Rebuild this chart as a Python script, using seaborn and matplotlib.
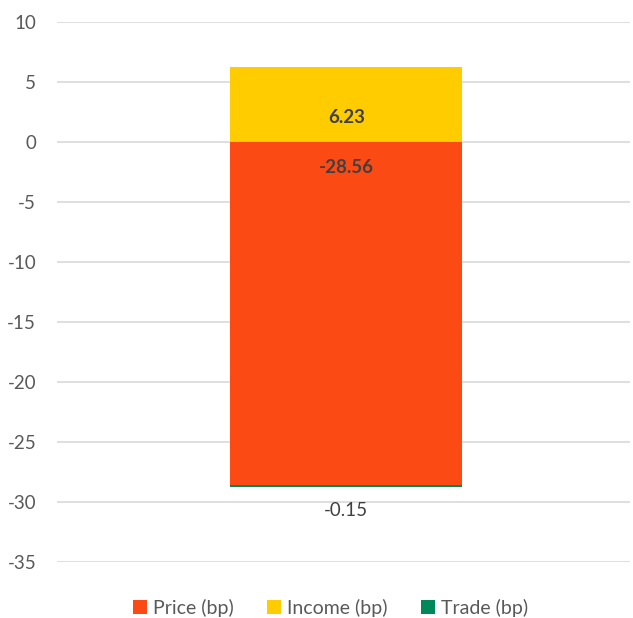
import matplotlib
matplotlib.use("Agg")
import matplotlib.pyplot as plt
import seaborn as sns
import pandas as pd
from matplotlib.patches import Patch

categories = [""]
series_names = ["Price (bp)", "Income (bp)", "Trade (bp)"]
price = [-28.56]
income = [6.23]
trade = [-0.15]
colors = {"Price (bp)": "#FC4A14", "Income (bp)": "#FFCC00", "Trade (bp)": "#00875A"}
yticks = list(range(-35, 11, 5))

sns.set_theme(style="white")
plt.rcParams["font.family"] = ["Lato", "DejaVu Sans"]

fig = plt.figure(figsize=(6.33, 6.18), dpi=100)
ax = fig.add_axes([0.09, 0.09, 0.905, 0.875])

df = pd.DataFrame({"cat": categories, "price": price, "income": income, "trade": trade})
w = 0.405
sns.barplot(data=df, x="cat", y="income", color=colors["Income (bp)"], width=w, ax=ax,
            saturation=1, linewidth=0, bottom=0)
sns.barplot(data=df, x="cat", y="price", color=colors["Price (bp)"], width=w, ax=ax,
            saturation=1, linewidth=0, bottom=0)
sns.barplot(data=df, x="cat", y="trade", color=colors["Trade (bp)"], width=w, ax=ax,
            saturation=1, linewidth=0, bottom=df["price"].values)

ax.set_ylim(-35, 10)
ax.set_xlim(-0.505, 0.495)
ax.set_yticks(yticks)
ax.set_yticklabels([str(t) for t in yticks], color="#595959", fontsize=13.5)
ax.set_xticks([])
ax.set_xlabel("")
ax.set_ylabel("")
ax.tick_params(axis="y", length=0, pad=15)
ax.yaxis.grid(True, color="#D9D9D9", linewidth=1.2)
ax.set_axisbelow(True)
for s in ax.spines.values():
    s.set_visible(False)

lab_col = "#404040"
ax.annotate(f"{income[0]:.2f}", xy=(0, 0), xytext=(0, 24), textcoords="offset pixels",
            ha="center", va="center", fontsize=13.5, fontweight="bold", color=lab_col)
ax.annotate(f"{price[0]:.2f}", xy=(0, 0), xytext=(0, -26), textcoords="offset pixels",
            ha="center", va="center", fontsize=13.5, fontweight="bold", color=lab_col)
ax.annotate(f"{trade[0]:.2f}", xy=(0, price[0] + trade[0]), xytext=(0, -24), textcoords="offset pixels",
            ha="center", va="center", fontsize=13.5, color=lab_col)

handles = [Patch(facecolor=colors[n], edgecolor="none", label=n) for n in series_names]
fig.legend(handles=handles, loc="center", bbox_to_anchor=(0.522, 0.016), ncol=3,
           frameon=False, fontsize=14, handlelength=0.75, handleheight=0.75,
           handletextpad=0.3, columnspacing=1.7, labelcolor="#595959")

fig.savefig("out.png", dpi=100)
